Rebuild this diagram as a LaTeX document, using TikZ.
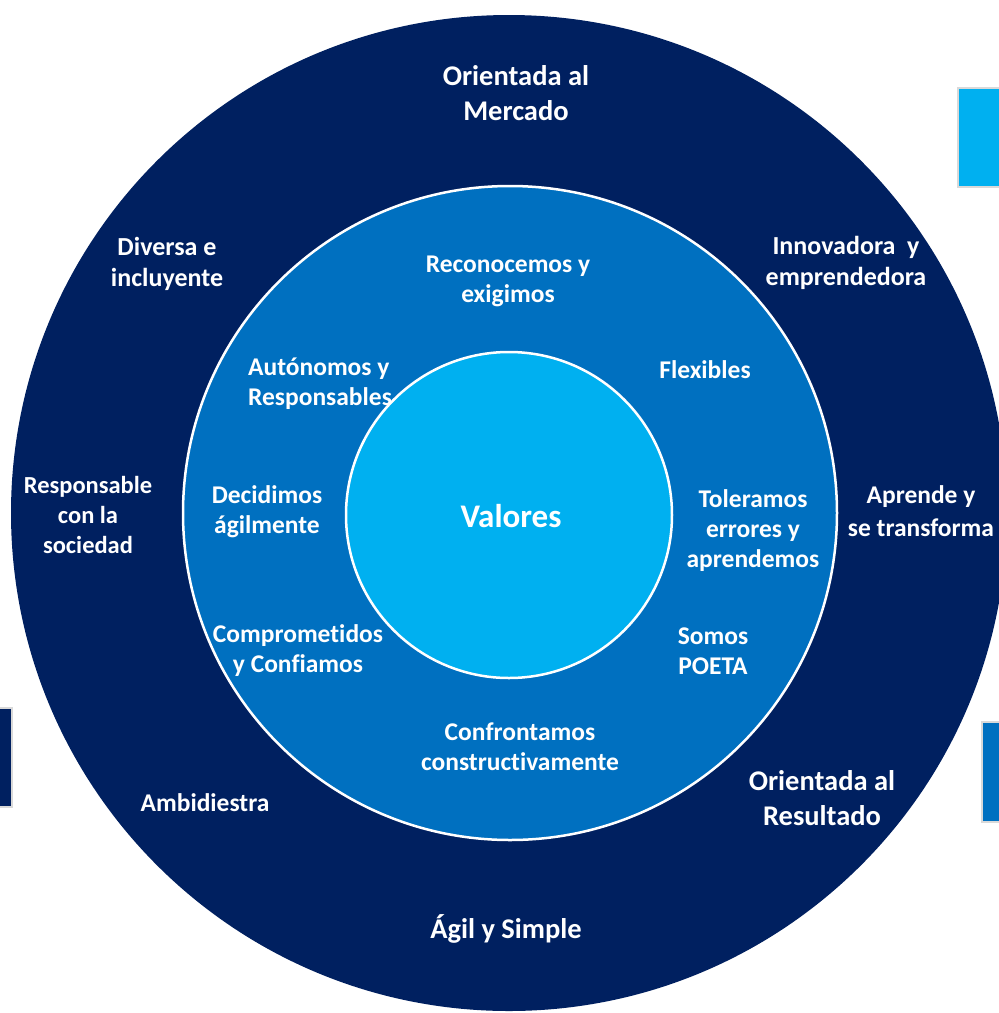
\documentclass[tikz,border=0pt]{standalone}
\usepackage{fontspec}
\setmainfont[Ligatures={NoCommon}]{Carlito}
\definecolor{navy}{HTML}{002060}
\definecolor{midblue}{HTML}{0070C0}
\definecolor{lightblue}{HTML}{00B0F0}
\definecolor{rimgray}{HTML}{D9D9D9}
\begin{document}
\begin{tikzpicture}[x=1pt,y=-1pt,
  lbl/.style={text=white, align=center, inner sep=0pt, font=\bfseries\fontsize{26}{31}\selectfont},
  biglbl/.style={lbl, font=\bfseries\fontsize{28.5}{35}\selectfont},
  midlbl/.style={lbl, font=\bfseries\fontsize{25.5}{30}\selectfont},
  corelbl/.style={lbl, font=\bfseries\fontsize{33}{38}\selectfont},
  tab/.style={draw=rimgray, line width=1.5pt}]
\useasboundingbox (0,0) rectangle (999,1013);
\clip (0,0) rectangle (999,1013);
% side tabs
\fill[white] (0,0) rectangle (999,1013);
\filldraw[tab, fill=lightblue] (958,88) rectangle (1010,187);
\filldraw[tab, fill=navy] (-10,708) rectangle (12,807);
\filldraw[tab, fill=midblue] (982,722) rectangle (1010,822);
% rings
\fill[navy] (509,513) circle[radius=498pt];
\filldraw[fill=midblue, draw=white, line width=2.5pt] (510,513) circle[radius=327pt];
\filldraw[fill=lightblue, draw=white, line width=2.5pt] (509,515) circle[radius=163pt];
% outer ring labels
\node[biglbl] (mercado) at (516,93) {Orientada al\\Mercado};
\node[lbl] (diversa) at (167,264) {Diversa e\\incluyente};
\node[lbl] (innova) at (846,263) {Innovadora\ \ y\\emprendedora};
\node[lbl, font=\bfseries\fontsize{24.5}{30}\selectfont] (socied) at (88,515) {Responsable\\con la\\sociedad};
\node[lbl, font=\bfseries\fontsize{25.5}{33}\selectfont] (aprende) at (921,511) {Aprende y\\se transforma};
\node[lbl, font=\bfseries\fontsize{25.5}{31}\selectfont] (ambi) at (205,803) {Ambidiestra};
\node[biglbl] (resultado) at (822,798) {Orientada al\\Resultado};
\node[biglbl] (agil) at (506,929) {Ágil y Simple};
% middle ring labels
\node[midlbl] (recon) at (508,281) {Reconocemos y\\exigimos};
\node[midlbl, align=left] (auton) at (320,384) {Autónomos y\\Responsables};
\node[midlbl] (flex) at (705,370) {Flexibles};
\node[midlbl] (decid) at (267,512) {Decidimos\\ágilmente};
\node[midlbl] (toler) at (753,531) {Toleramos\\errores y\\aprendemos};
\node[midlbl] (compro) at (298,651) {Comprometidos\\y Confiamos};
\node[midlbl] (somos) at (713,651) {Somos\\POETA};
\node[midlbl] (confr) at (520,747) {Confrontamos\\constructivamente};
% core
\node[corelbl] (valores) at (511,516) {Valores};
\end{tikzpicture}
\end{document}
